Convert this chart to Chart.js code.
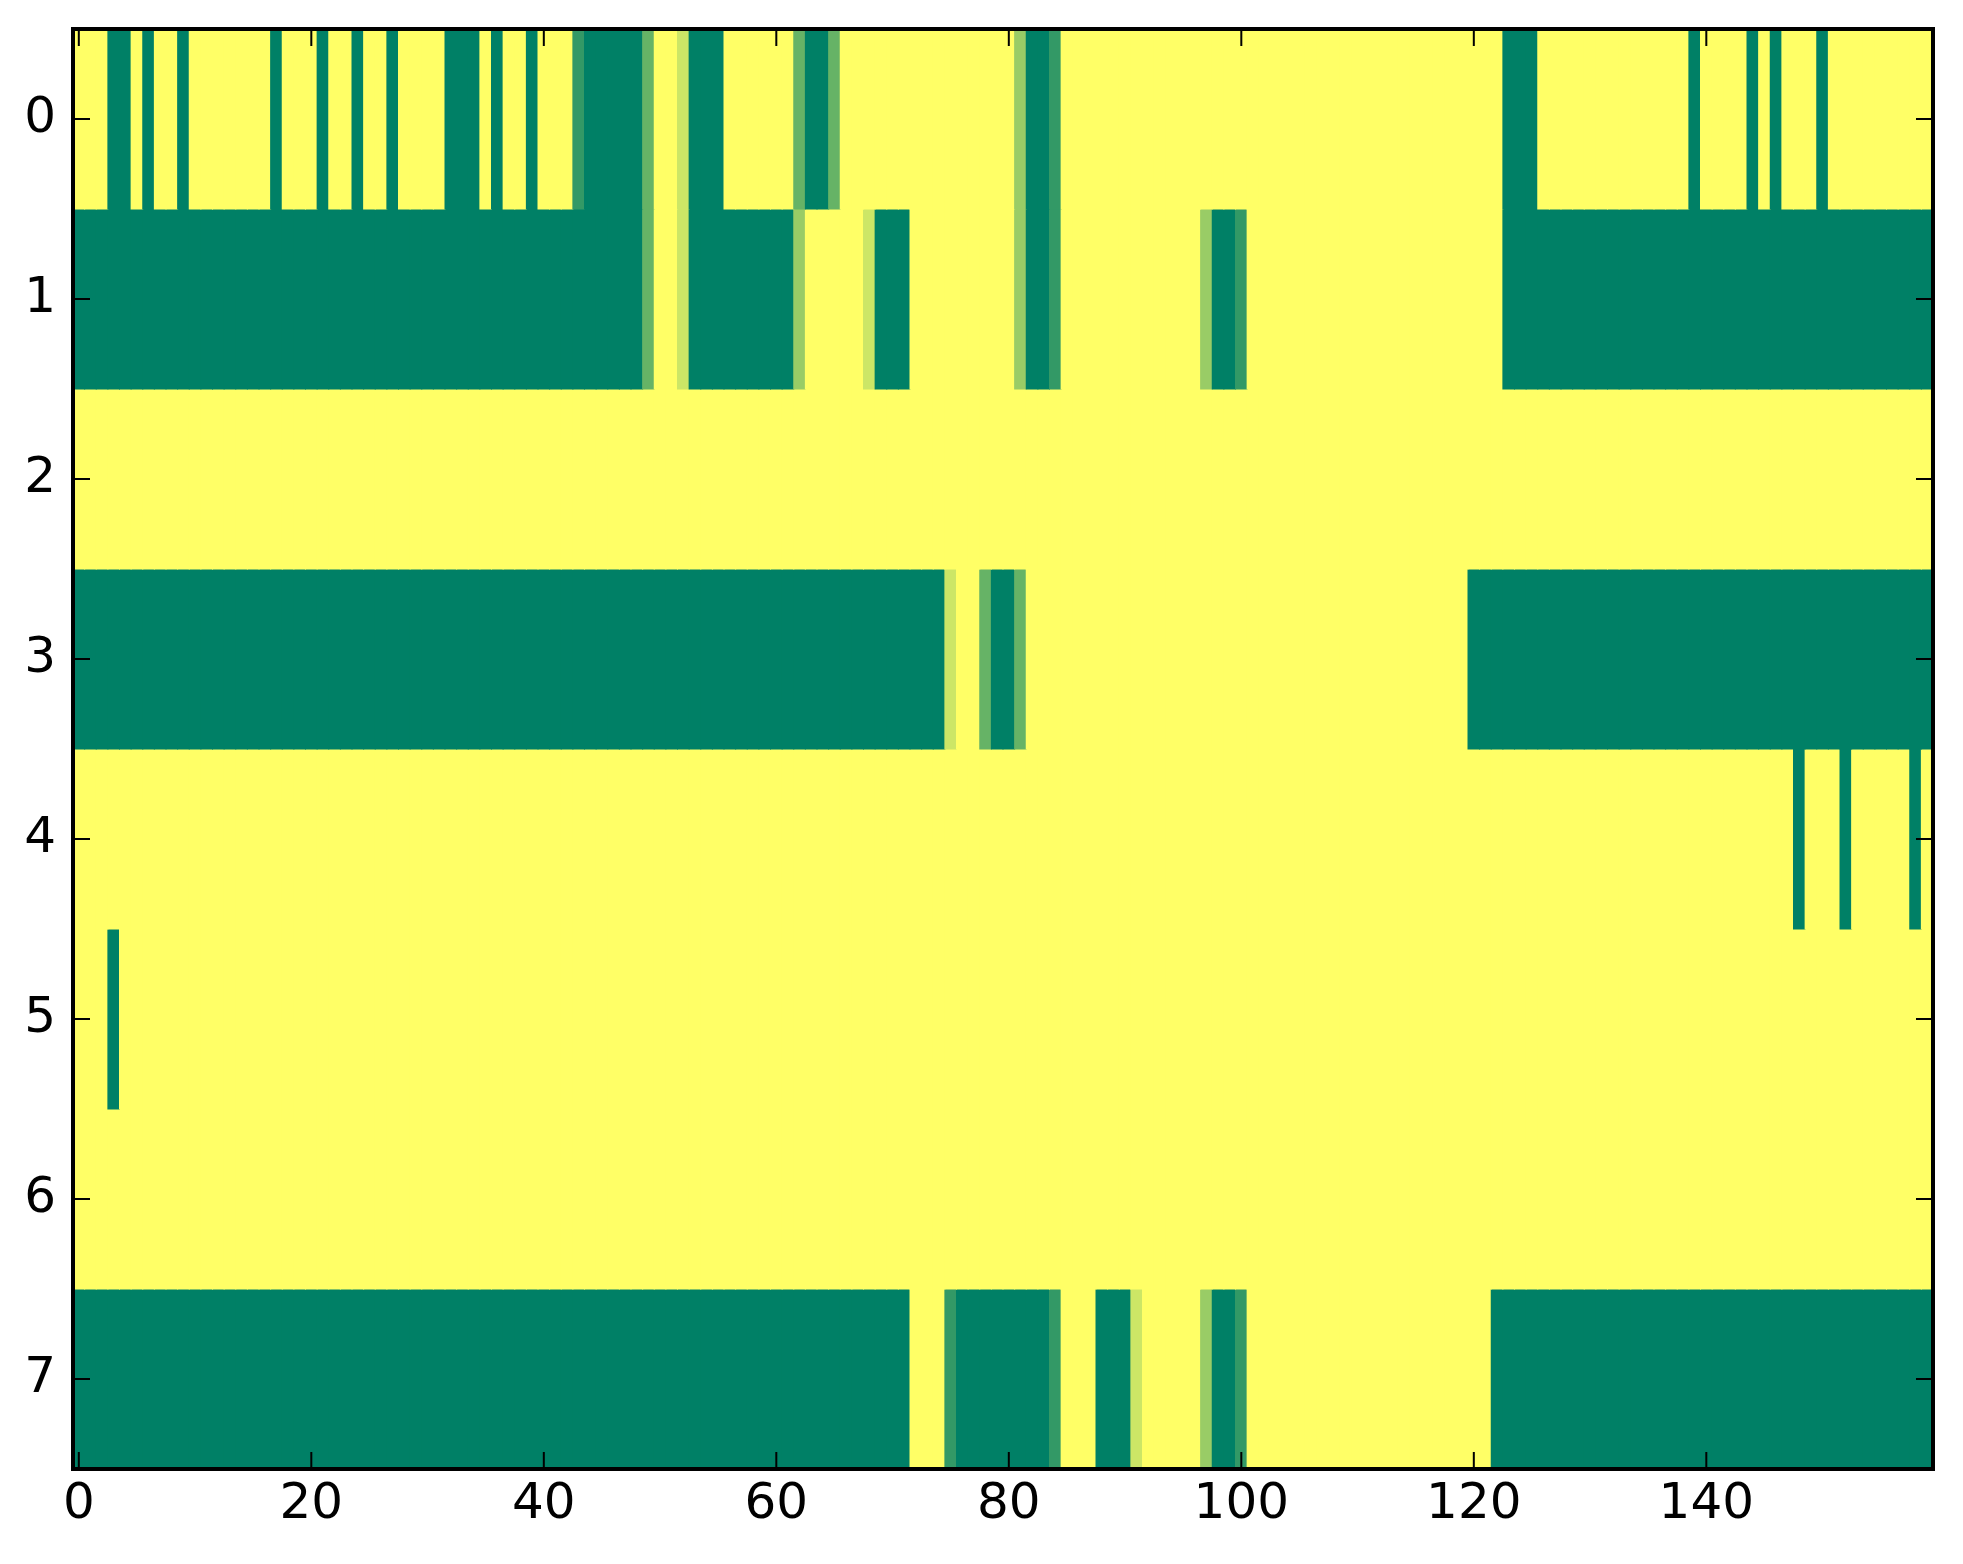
<!DOCTYPE html>
<html>
<head>
<meta charset="utf-8">
<script src="https://cdn.jsdelivr.net/npm/chart.js@4.4.1/dist/chart.umd.min.js"></script>
<style>
  html, body { margin: 0; padding: 0; background: #fff; overflow: hidden; }
  #wrap { width: 1963px; height: 1564px; }
</style>
</head>
<body>
<div id="wrap"><canvas id="chart" width="1963" height="1564"></canvas></div>
<script>
// valori: 0 = verde, 1 = giallo (colormap "summer")
const xTicks = [0, 20, 40, 60, 80, 100, 120, 140];
const yTicks = [0, 1, 2, 3, 4, 5, 6, 7];

const row0 = [
  1,1,1,0,0,1,0,1,1,0,1,1,1,1,1,1,1,0,1,1,
  1,0,1,1,0,1,1,0,1,1,1,1,0,0,0,1,0,1,1,0,
  1,1,1,0.2,0,0,0,0,0,0.4,1,1,0.8,0,0,0,1,1,1,1,
  1,1,0.4,0,0,0.4,1,1,1,1,1,1,1,1,1,1,1,1,1,1,
  1,0.6,0,0,0.2,1,1,1,1,1,1,1,1,1,1,1,1,1,1,1,
  1,1,1,1,1,1,1,1,1,1,1,1,1,1,1,1,1,1,1,1,
  1,1,1,0,0,0,1,1,1,1,1,1,1,1,1,1,1,1,1,0,
  1,1,1,1,0,1,0,1,1,1,0,1,1,1,1,1,1,1,1,1
];
const row1 = [
  0,0,0,0,0,0,0,0,0,0,0,0,0,0,0,0,0,0,0,0,
  0,0,0,0,0,0,0,0,0,0,0,0,0,0,0,0,0,0,0,0,
  0,0,0,0,0,0,0,0,0,0.4,1,1,0.8,0,0,0,0,0,0,0,
  0,0,0.6,1,1,1,1,1,0.8,0,0,0,1,1,1,1,1,1,1,1,
  1,0.6,0,0,0.2,1,1,1,1,1,1,1,1,1,1,1,1,0.6,0,0,
  0.2,1,1,1,1,1,1,1,1,1,1,1,1,1,1,1,1,1,1,1,
  1,1,1,0,0,0,0,0,0,0,0,0,0,0,0,0,0,0,0,0,
  0,0,0,0,0,0,0,0,0,0,0,0,0,0,0,0,0,0,0,0
];
const row2 = [
  1,1,1,1,1,1,1,1,1,1,1,1,1,1,1,1,1,1,1,1,
  1,1,1,1,1,1,1,1,1,1,1,1,1,1,1,1,1,1,1,1,
  1,1,1,1,1,1,1,1,1,1,1,1,1,1,1,1,1,1,1,1,
  1,1,1,1,1,1,1,1,1,1,1,1,1,1,1,1,1,1,1,1,
  1,1,1,1,1,1,1,1,1,1,1,1,1,1,1,1,1,1,1,1,
  1,1,1,1,1,1,1,1,1,1,1,1,1,1,1,1,1,1,1,1,
  1,1,1,1,1,1,1,1,1,1,1,1,1,1,1,1,1,1,1,1,
  1,1,1,1,1,1,1,1,1,1,1,1,1,1,1,1,1,1,1,1
];
const row3 = [
  0,0,0,0,0,0,0,0,0,0,0,0,0,0,0,0,0,0,0,0,
  0,0,0,0,0,0,0,0,0,0,0,0,0,0,0,0,0,0,0,0,
  0,0,0,0,0,0,0,0,0,0,0,0,0,0,0,0,0,0,0,0,
  0,0,0,0,0,0,0,0,0,0,0,0,0,0,0,0.8,1,1,0.4,0,
  0,0.4,1,1,1,1,1,1,1,1,1,1,1,1,1,1,1,1,1,1,
  1,1,1,1,1,1,1,1,1,1,1,1,1,1,1,1,1,1,1,1,
  0,0,0,0,0,0,0,0,0,0,0,0,0,0,0,0,0,0,0,0,
  0,0,0,0,0,0,0,0,0,0,0,0,0,0,0,0,0,0,0,0
];
const row4 = [
  1,1,1,1,1,1,1,1,1,1,1,1,1,1,1,1,1,1,1,1,
  1,1,1,1,1,1,1,1,1,1,1,1,1,1,1,1,1,1,1,1,
  1,1,1,1,1,1,1,1,1,1,1,1,1,1,1,1,1,1,1,1,
  1,1,1,1,1,1,1,1,1,1,1,1,1,1,1,1,1,1,1,1,
  1,1,1,1,1,1,1,1,1,1,1,1,1,1,1,1,1,1,1,1,
  1,1,1,1,1,1,1,1,1,1,1,1,1,1,1,1,1,1,1,1,
  1,1,1,1,1,1,1,1,1,1,1,1,1,1,1,1,1,1,1,1,
  1,1,1,1,1,1,1,1,0,1,1,1,0,1,1,1,1,1,0,1
];
const row5 = [
  1,1,1,0,1,1,1,1,1,1,1,1,1,1,1,1,1,1,1,1,
  1,1,1,1,1,1,1,1,1,1,1,1,1,1,1,1,1,1,1,1,
  1,1,1,1,1,1,1,1,1,1,1,1,1,1,1,1,1,1,1,1,
  1,1,1,1,1,1,1,1,1,1,1,1,1,1,1,1,1,1,1,1,
  1,1,1,1,1,1,1,1,1,1,1,1,1,1,1,1,1,1,1,1,
  1,1,1,1,1,1,1,1,1,1,1,1,1,1,1,1,1,1,1,1,
  1,1,1,1,1,1,1,1,1,1,1,1,1,1,1,1,1,1,1,1,
  1,1,1,1,1,1,1,1,1,1,1,1,1,1,1,1,1,1,1,1
];
const row6 = [
  1,1,1,1,1,1,1,1,1,1,1,1,1,1,1,1,1,1,1,1,
  1,1,1,1,1,1,1,1,1,1,1,1,1,1,1,1,1,1,1,1,
  1,1,1,1,1,1,1,1,1,1,1,1,1,1,1,1,1,1,1,1,
  1,1,1,1,1,1,1,1,1,1,1,1,1,1,1,1,1,1,1,1,
  1,1,1,1,1,1,1,1,1,1,1,1,1,1,1,1,1,1,1,1,
  1,1,1,1,1,1,1,1,1,1,1,1,1,1,1,1,1,1,1,1,
  1,1,1,1,1,1,1,1,1,1,1,1,1,1,1,1,1,1,1,1,
  1,1,1,1,1,1,1,1,1,1,1,1,1,1,1,1,1,1,1,1
];
const row7 = [
  0,0,0,0,0,0,0,0,0,0,0,0,0,0,0,0,0,0,0,0,
  0,0,0,0,0,0,0,0,0,0,0,0,0,0,0,0,0,0,0,0,
  0,0,0,0,0,0,0,0,0,0,0,0,0,0,0,0,0,0,0,0,
  0,0,0,0,0,0,0,0,0,0,0,0,1,1,1,0.2,0,0,0,0,
  0,0,0,0,0.2,1,1,1,0,0,0,0.8,1,1,1,1,1,0.6,0,0,
  0.2,1,1,1,1,1,1,1,1,1,1,1,1,1,1,1,1,1,1,1,
  1,1,0,0,0,0,0,0,0,0,0,0,0,0,0,0,0,0,0,0,
  0,0,0,0,0,0,0,0,0,0,0,0,0,0,0,0,0,0,0,0
];
const rows = [row0, row1, row2, row3, row4, row5, row6, row7];

// colormap summer di matplotlib: r = v, g = 0.5 + v/2, b = 0.4
function summer(v) {
  return 'rgb(' + Math.round(255 * v) + ',' + Math.round(255 * (0.5 + v / 2)) + ',102)';
}

// una riga = un dataset di barre "fluttuanti" alte una cella
const datasets = rows.map((vals, r) => ({
  data: vals.map((v, c) => ({ x: c, y: [r - 0.5, r + 0.5] })),
  backgroundColor: vals.map(summer),
  borderWidth: 0,
  inflateAmount: 0.5, // niente fessure tra celle vicine
  grouped: false,
  barPercentage: 1,
  categoryPercentage: 1
}));

// cornice nera e tacche verso l'interno, come nello stile classico
const frame = {
  id: 'frame',
  afterDatasetsDraw(chart) {
    const { ctx, chartArea: a, scales: { x, y } } = chart;
    ctx.save();
    ctx.strokeStyle = '#000';
    ctx.lineWidth = 2;
    ctx.beginPath();
    xTicks.forEach(v => {
      const px = x.getPixelForValue(v);
      ctx.moveTo(px, a.bottom); ctx.lineTo(px, a.bottom - 17);
      ctx.moveTo(px, a.top); ctx.lineTo(px, a.top + 17);
    });
    yTicks.forEach(v => {
      const py = y.getPixelForValue(v);
      ctx.moveTo(a.left, py); ctx.lineTo(a.left + 17, py);
      ctx.moveTo(a.right, py); ctx.lineTo(a.right - 17, py);
    });
    ctx.stroke();
    ctx.lineWidth = 4;
    ctx.strokeRect(a.left, a.top, a.right - a.left, a.bottom - a.top);
    ctx.restore();
  }
};

Chart.defaults.font.family = 'DejaVu Sans';
Chart.defaults.font.size = 50;
Chart.defaults.color = '#000';

const chart = new Chart(document.getElementById('chart'), {
  type: 'bar',
  data: { datasets },
  options: {
    responsive: false,
    animation: false,
    layout: { padding: { top: 29, right: 30, left: 0, bottom: 0 } },
    plugins: { legend: { display: false }, tooltip: { enabled: false } },
    scales: {
      x: {
        type: 'linear',
        offset: false,
        min: -0.5,
        max: 159.5,
        grid: { display: false, drawTicks: false },
        border: { display: false },
        afterBuildTicks: s => { s.ticks = xTicks.map(v => ({ value: v })); },
        afterFit: s => { s.height = 95; s.paddingLeft = 0; s.paddingRight = 0; },
        ticks: { padding: 6, maxRotation: 0, autoSkip: false, callback: v => String(v) }
      },
      y: {
        type: 'linear',
        reverse: true,
        min: -0.5,
        max: 7.5,
        grid: { display: false, drawTicks: false },
        border: { display: false },
        afterBuildTicks: s => { s.ticks = yTicks.map(v => ({ value: v })); },
        afterFit: s => { s.width = 73; s.paddingTop = 0; s.paddingBottom = 0; },
        ticks: { padding: 17, autoSkip: false, callback: v => String(v) }
      }
    }
  },
  plugins: [frame]
});
</script>
</body>
</html>
